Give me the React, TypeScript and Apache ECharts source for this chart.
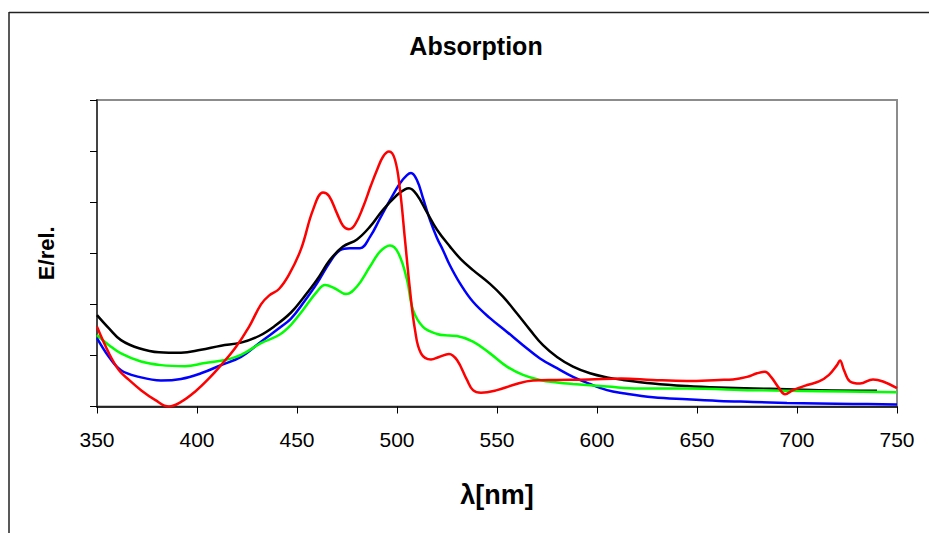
import React, { useEffect, useRef } from "react";
import * as echarts from "echarts";

const xTicks = [350, 400, 450, 500, 550, 600, 650, 700, 750];

const redSeries: [number, number][] = [
  [350, 1.56], [356, 1.04], [361, 0.71], [366, 0.52], [372, 0.32], [379, 0.13], [386, 0.0], [392, 0.09],
  [399, 0.29], [406, 0.55], [412, 0.81], [419, 1.14], [426, 1.56], [432, 2.0], [436, 2.17], [441, 2.3],
  [446, 2.58], [452, 3.08], [458, 3.85], [463, 4.19], [466, 4.12], [470, 3.78], [473, 3.54], [476, 3.47],
  [479, 3.56], [483, 3.9], [487, 4.33], [490, 4.63], [493, 4.89], [496, 4.99], [499, 4.83], [501.5, 4.24],
  [504, 3.26], [506.5, 2.28], [509, 1.5], [512, 1.04], [517, 0.92], [521, 0.97], [526, 1.03], [530, 0.91],
  [535, 0.52], [538, 0.32], [542, 0.27], [550, 0.32], [558, 0.42], [568, 0.51], [580, 0.52], [596, 0.53],
  [612, 0.55], [628, 0.52], [645, 0.5], [661, 0.52], [668, 0.53], [675, 0.58], [680, 0.65], [684, 0.68],
  [687, 0.58], [691, 0.36], [694, 0.24], [698, 0.32], [705, 0.42], [711, 0.49], [716, 0.62], [720, 0.81],
  [721.5, 0.9], [723.5, 0.71], [726.5, 0.49], [731.5, 0.45], [738, 0.53], [743, 0.49], [750, 0.36],
];

const blueSeries: [number, number][] = [
  [350, 1.34], [356, 0.97], [362, 0.71], [371, 0.58], [382, 0.51], [392, 0.54], [402, 0.65], [412, 0.81],
  [422, 0.97], [432, 1.27], [442, 1.56], [447, 1.72], [453, 2.02], [460, 2.41], [466.5, 2.83], [471.5, 3.06],
  [476.5, 3.1], [481.5, 3.1], [486.5, 3.32], [491.5, 3.68], [496.5, 4.04], [501.5, 4.37], [505, 4.53],
  [507, 4.57], [510, 4.43], [513, 4.08], [516.5, 3.65], [520, 3.3], [523, 3.06], [526.5, 2.76], [531.5, 2.41],
  [538, 2.05], [546.5, 1.73], [555, 1.46], [563, 1.2], [571.5, 0.94], [580, 0.75], [588, 0.58], [596.5, 0.44],
  [605, 0.32], [613, 0.26], [628, 0.18], [645, 0.14], [661, 0.11], [678, 0.09], [695, 0.07], [711, 0.06],
  [728, 0.05], [750, 0.04],
];

const greenSeries: [number, number][] = [
  [350, 1.4], [356, 1.2], [362, 1.04], [372, 0.88], [382, 0.81], [394, 0.79], [404, 0.85], [414, 0.91],
  [422, 1.01], [432, 1.24], [441, 1.4], [447, 1.6], [453, 1.89], [460, 2.25], [464, 2.38], [469, 2.31],
  [474.5, 2.2], [480, 2.35], [486.5, 2.74], [491.5, 3.03], [496.5, 3.15], [500.7, 3.0], [505, 2.48],
  [508, 1.89], [513, 1.56], [520, 1.42], [526, 1.39], [530, 1.38], [538, 1.27], [546.5, 1.04], [555, 0.78],
  [563, 0.62], [571.5, 0.52], [580, 0.47], [588, 0.44], [605, 0.39], [621, 0.35], [645, 0.35], [678, 0.32],
  [711, 0.3], [750, 0.28],
];

const blackSeries: [number, number][] = [
  [350, 1.79], [356, 1.53], [362, 1.3], [371, 1.14], [381, 1.06], [392, 1.05], [402, 1.11], [412, 1.19],
  [422, 1.25], [431, 1.38], [439, 1.58], [447, 1.84], [453, 2.12], [460, 2.48], [466.5, 2.87], [473, 3.13],
  [480, 3.27], [486.5, 3.52], [493, 3.85], [500, 4.14], [504, 4.25], [506, 4.27], [510, 4.14], [515, 3.8],
  [520, 3.46], [526.5, 3.13], [532, 2.88], [538, 2.67], [546.5, 2.4], [553, 2.15], [560, 1.82], [566.5, 1.5],
  [573, 1.2], [580, 0.97], [588, 0.78], [596.5, 0.65], [605, 0.57], [613, 0.52], [628, 0.45], [645, 0.4],
  [661, 0.37], [678, 0.35], [695, 0.34], [711, 0.32], [740, 0.31],
];

const FONT = "'Liberation Sans', Arial, sans-serif";

export default function App() {
  const ref = useRef<HTMLDivElement>(null);
  useEffect(() => {
    if (!ref.current) return;
    const chart = echarts.init(ref.current, null, { renderer: "svg" });
    const line = (name: string, data: [number, number][], color: string) => ({
      name,
      type: "line",
      data,
      showSymbol: false,
      smooth: 0.4,
      lineStyle: { color, width: 2.5 },
      itemStyle: { color },
      z: 3,
    });
    chart.setOption({
      animation: false,
      backgroundColor: "#ffffff",
      grid: {
        left: 97,
        top: 100,
        width: 800,
        height: 306.5,
        show: true,
        borderColor: "#8c8c8c",
        borderWidth: 2,
        backgroundColor: "transparent",
      },
      xAxis: {
        type: "value",
        min: 350,
        max: 750,
        interval: 50,
        axisLine: { show: true, onZero: false, lineStyle: { color: "#000", width: 1.5 } },
        axisTick: { show: true, length: 7, lineStyle: { color: "#000", width: 1 } },
        splitLine: { show: false },
        axisLabel: {
          color: "#000",
          fontSize: 21,
          fontFamily: FONT,
          margin: 22,
          formatter: (v: number) => (xTicks.includes(v) ? String(v) : ""),
        },
        name: "λ[nm]",
        nameLocation: "middle",
        nameGap: 75,
        nameTextStyle: { color: "#000", fontSize: 27, fontWeight: "bold", fontFamily: FONT },
      },
      yAxis: {
        type: "value",
        min: 0,
        max: 6,
        interval: 1,
        axisLine: { show: true, onZero: false, lineStyle: { color: "#444", width: 2 } },
        axisTick: { show: true, length: 7, lineStyle: { color: "#000", width: 1 } },
        splitLine: { show: false },
        axisLabel: { show: false },
        name: "E/rel.",
        nameLocation: "middle",
        nameGap: 40,
        nameRotate: 90,
        nameTextStyle: { color: "#000", fontSize: 22, fontWeight: "bold", fontFamily: FONT },
      },
      graphic: [
        {
          type: "line",
          shape: { x1: 9, y1: 12.5, x2: 929, y2: 12.5 },
          style: { stroke: "#222", lineWidth: 1.5 },
        },
        {
          type: "line",
          shape: { x1: 9, y1: 12, x2: 9, y2: 533 },
          style: { stroke: "#222", lineWidth: 1.5 },
        },
        {
          type: "text",
          x: 476,
          y: 46,
          style: {
            text: "Absorption",
            fill: "#000",
            font: `bold 25px ${FONT}`,
            textAlign: "center",
            textVerticalAlign: "middle",
          },
        },
      ],
      series: [
        line("blue", blueSeries, "#0000ff"),
        line("black", blackSeries, "#000000"),
        line("green", greenSeries, "#00ff00"),
        line("red", redSeries, "#ff0000"),
      ],
    });
    return () => chart.dispose();
  }, []);
  return (
    <div
      ref={ref}
      style={{ position: "fixed", left: 0, top: 0, width: 929, height: 533, background: "#fff" }}
    />
  );
}
